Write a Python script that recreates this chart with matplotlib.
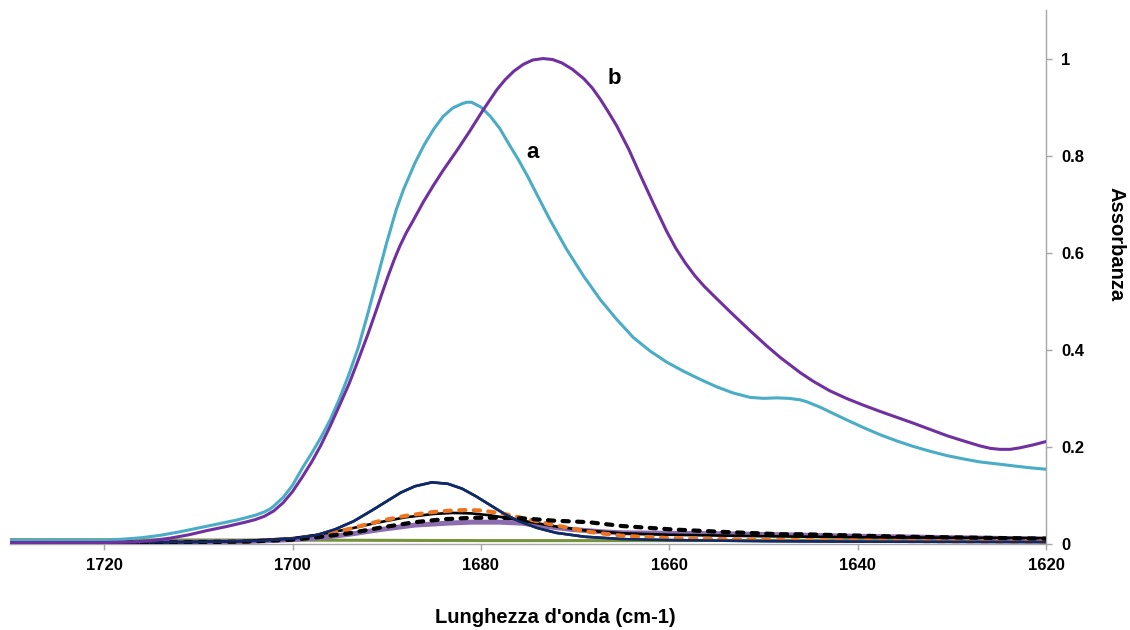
import matplotlib
matplotlib.use("Agg")
import matplotlib.pyplot as plt

plt.rcParams['font.family'] = ['Liberation Sans', 'DejaVu Sans']

# Spectrum a (cyan)
a_x = [1730, 1725, 1720, 1718, 1716, 1714, 1712, 1710, 1708, 1706, 1705, 1704, 1703,
       1702.4, 1702, 1701, 1700, 1699, 1698, 1697, 1696, 1695, 1694, 1693, 1692,
       1691, 1690, 1689, 1688.2, 1687, 1686, 1685, 1684, 1683, 1682, 1681.5, 1681,
       1680, 1679, 1678, 1677, 1676, 1675, 1674.4, 1672.7, 1670.9, 1669.1, 1667.35,
       1665.6, 1663.8, 1662, 1660.3, 1658.5, 1656.7, 1655, 1653.2, 1651.4, 1650,
       1648.6, 1647.3, 1646.1, 1645.4, 1644, 1642.5, 1641.2, 1639.4, 1637.6, 1635.8,
       1634.1, 1632.3, 1630.5, 1628.7, 1627, 1625.2, 1623.5, 1621.7, 1620]
a_y = [0.008, 0.008, 0.008, 0.010, 0.013, 0.018, 0.025, 0.033, 0.041, 0.049, 0.054, 0.059, 0.066,
       0.072, 0.078, 0.096, 0.121, 0.155, 0.186, 0.219, 0.256, 0.300, 0.350, 0.406, 0.475,
       0.548, 0.621, 0.688, 0.731, 0.785, 0.823, 0.855, 0.881, 0.898, 0.907, 0.910, 0.910,
       0.900, 0.881, 0.856, 0.823, 0.791, 0.756, 0.733, 0.669, 0.607, 0.552, 0.504,
       0.463, 0.425, 0.397, 0.375, 0.356, 0.339, 0.324, 0.311, 0.302, 0.300,
       0.301, 0.300, 0.297, 0.293, 0.282, 0.268, 0.256, 0.240, 0.225, 0.212,
       0.201, 0.191, 0.182, 0.175, 0.169, 0.165, 0.161, 0.157, 0.154]

# Spectrum b (purple)
b_x = [1730, 1725, 1720, 1717, 1715, 1713, 1711, 1709, 1707, 1705, 1704, 1703, 1702,
       1701, 1700, 1699, 1698, 1697, 1696, 1695, 1694, 1693.2, 1692, 1691.1, 1690.4,
       1689.8, 1689.2, 1688.6, 1687.9, 1687.2, 1686.1, 1685, 1684, 1682.5, 1681.2,
       1679.8, 1678.3, 1677.4, 1676.5, 1675.5, 1674.5, 1673.4, 1672.4, 1671.4, 1670.3,
       1669.1, 1668.2, 1667.35, 1666.5, 1665.6, 1664.3, 1663.1, 1661.7, 1660.3, 1659.3,
       1658.3, 1657.3, 1656.3, 1655, 1653.2, 1651.4, 1649.65, 1648.2, 1646.1, 1644.7,
       1643, 1641.2, 1639.4, 1637.6, 1634.1, 1630.5, 1628.7, 1627, 1625.9, 1624.9,
       1623.8, 1622.8, 1621.4, 1620]
b_y = [0.003, 0.003, 0.003, 0.004, 0.007, 0.012, 0.019, 0.028, 0.036, 0.045, 0.050, 0.057, 0.068,
       0.085, 0.108, 0.137, 0.168, 0.203, 0.243, 0.286, 0.330, 0.370, 0.432, 0.482, 0.522,
       0.555, 0.586, 0.614, 0.642, 0.666, 0.705, 0.740, 0.770, 0.812, 0.850,
       0.893, 0.936, 0.957, 0.974, 0.988, 0.997, 1.000, 0.998, 0.991, 0.978,
       0.959, 0.940, 0.917, 0.891, 0.862, 0.813, 0.761, 0.702, 0.645, 0.609,
       0.579, 0.553, 0.531, 0.506, 0.472, 0.439, 0.408, 0.384, 0.353, 0.335,
       0.316, 0.300, 0.286, 0.273, 0.249, 0.223, 0.212, 0.202, 0.197, 0.195,
       0.195, 0.198, 0.204, 0.211]

# Deconvolved components
navy_x = [1730, 1710, 1703, 1700, 1697.5, 1695.5, 1693.5, 1691.5, 1690, 1688.5, 1687,
          1685.2, 1683.5, 1682, 1680.5, 1679, 1677.5, 1676, 1674, 1672, 1669, 1665,
          1660, 1650, 1640, 1620]
navy_y = [0.004, 0.004, 0.007, 0.011, 0.018, 0.030, 0.047, 0.070, 0.088, 0.106, 0.119,
          0.127, 0.124, 0.114, 0.098, 0.080, 0.062, 0.047, 0.033, 0.023, 0.015, 0.010,
          0.008, 0.006, 0.005, 0.004]

blk_x = [1730, 1715, 1705, 1700, 1697, 1694, 1691, 1688, 1685, 1683, 1681, 1679, 1677,
         1675, 1672, 1669, 1665, 1660, 1650, 1640, 1630, 1620]
blk_y = [0.003, 0.003, 0.006, 0.012, 0.020, 0.031, 0.044, 0.055, 0.062, 0.064, 0.063,
         0.059, 0.053, 0.046, 0.036, 0.028, 0.022, 0.019, 0.016, 0.014, 0.013, 0.012]

org_x = [1730, 1715, 1705, 1700, 1697.8, 1694.2, 1690.6, 1688, 1685, 1683, 1681.5, 1680,
         1678, 1675.7, 1672.2, 1668.5, 1665, 1660, 1648, 1635, 1620]
org_y = [0.002, 0.002, 0.005, 0.010, 0.015, 0.030, 0.048, 0.058, 0.066, 0.069, 0.070,
         0.069, 0.064, 0.054, 0.039, 0.025, 0.017, 0.012, 0.008, 0.006, 0.005]

bdash_x = [1730, 1715, 1705, 1700, 1697.8, 1694, 1690.6, 1687, 1684, 1681, 1678, 1675.7,
           1672.2, 1668.6, 1665, 1659.7, 1654.4, 1648, 1645.8, 1635.2, 1620]
bdash_y = [0.003, 0.003, 0.005, 0.009, 0.013, 0.022, 0.034, 0.045, 0.051, 0.054, 0.054,
           0.053, 0.048, 0.045, 0.037, 0.030, 0.025, 0.020, 0.020, 0.015, 0.011]

lav_x = [1730, 1715, 1705, 1700, 1697, 1694, 1690.6, 1687, 1683.5, 1681, 1678, 1675.7,
         1673, 1670.4, 1667, 1665, 1660, 1654, 1648, 1640, 1630, 1620]
lav_y = [0.003, 0.003, 0.005, 0.009, 0.013, 0.020, 0.030, 0.039, 0.043, 0.045, 0.045,
         0.043, 0.036, 0.030, 0.025, 0.023, 0.022, 0.021, 0.019, 0.016, 0.013, 0.010]

grn_x = [1730, 1700, 1680, 1660, 1640, 1620]
grn_y = [0.009, 0.008, 0.007, 0.007, 0.008, 0.008]

x_ticks = [1720, 1700, 1680, 1660, 1640, 1620]
y_ticks = [0, 0.2, 0.4, 0.6, 0.8, 1]
y_ticklabels = ["0", "0.2", "0.4", "0.6", "0.8", "1"]

W, H = 1130, 630
fig = plt.figure(figsize=(W / 100, H / 100), dpi=100)
ax = fig.add_axes([10 / W, 1 - 544 / H, 1036 / W, 534 / H])

dash_style = dict(dashes=(1.5, 2.0), dash_capstyle='round')
smooth = dict(solid_joinstyle='round', solid_capstyle='round')

ax.plot(navy_x, navy_y, color='#0F2A66', lw=1.9, zorder=2, **smooth)
ax.plot(grn_x, grn_y, color='#77933C', lw=2.2, zorder=2)
ax.plot(lav_x, lav_y, color='#8D6CB0', lw=3.6, zorder=3, **smooth)
ax.plot(blk_x, blk_y, color='black', lw=1.9, zorder=4, **smooth)
ax.plot(org_x, org_y, color='#EB7420', lw=3.0, zorder=5, **dash_style)
ax.plot(bdash_x, bdash_y, color='black', lw=3.0, zorder=6, **dash_style)
ax.plot(navy_x, navy_y, color='#0F2A66', lw=1.9, zorder=6.5, **smooth)
ax.plot(a_x, a_y, color='#4BACC6', lw=2.2, zorder=7, **smooth)
ax.plot(b_x, b_y, color='#7030A0', lw=2.2, zorder=8, **smooth)

ax.text(1674.5, 0.806, 'a', fontsize=16, fontweight='bold', ha='center', va='center')
ax.text(1665.8, 0.958, 'b', fontsize=16, fontweight='bold', ha='center', va='center')

ax.set_xlim(1730, 1620)
ax.set_ylim(0, 1.1)

ax.set_xticks(x_ticks)
ax.set_xticklabels([str(t) for t in x_ticks])
ax.set_yticks(y_ticks)
ax.set_yticklabels(y_ticklabels)

ax.yaxis.tick_right()
ax.yaxis.set_label_position('right')

for side in ('top', 'left'):
    ax.spines[side].set_visible(False)
for side in ('bottom', 'right'):
    ax.spines[side].set_color('#A6A6A6')
    ax.spines[side].set_linewidth(1.0)

ax.tick_params(axis='both', which='major', direction='out', length=4, width=1.0,
               color='#A6A6A6', labelsize=12, labelcolor='black')
ax.tick_params(axis='x', pad=6)
ax.tick_params(axis='y', pad=7)
for lbl in ax.get_xticklabels() + ax.get_yticklabels():
    lbl.set_fontweight('bold')

ax.set_xlabel("Lunghezza d'onda (cm-1)", fontsize=14.5, fontweight='bold')
ax.set_ylabel("Assorbanza", fontsize=14.5, fontweight='bold', rotation=270)
ax.xaxis.set_label_coords(0.526, -0.137)
ax.yaxis.set_label_coords(1.068, 0.562)
ax.xaxis.label.set_va('center')
ax.yaxis.label.set_va('center')

fig.savefig('out.png', dpi=100, facecolor='white')
